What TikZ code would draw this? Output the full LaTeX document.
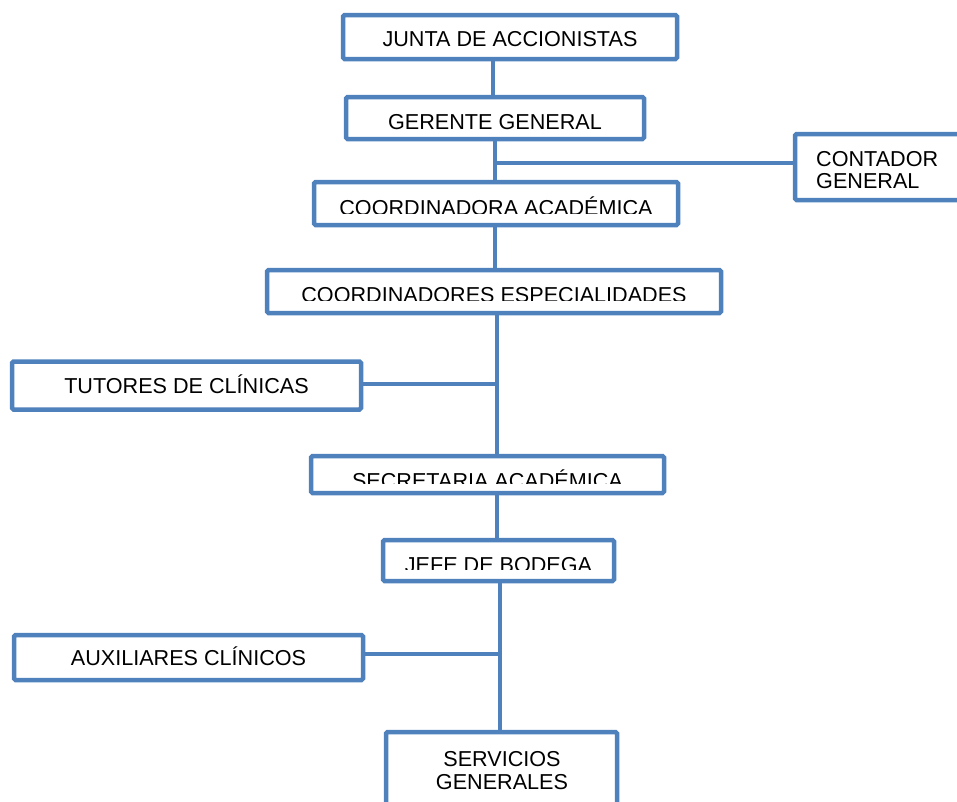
\documentclass[tikz,border=0pt]{standalone}
\usepackage{fontspec}
\setmainfont{Liberation Sans}
\definecolor{orgblue}{HTML}{4F81BD}
\begin{document}
\begin{tikzpicture}[x=1pt,y=-1pt,
  orgbox/.style={draw=orgblue, line width=4.5pt, fill=white, rounded corners=1.5pt, rectangle, inner sep=0pt},
  txt/.style={anchor=base, inner sep=0pt, font=\fontsize{21.6}{25}\selectfont},
  txtl/.style={anchor=base west, inner sep=0pt, font=\fontsize{21.6}{25}\selectfont},
  link/.style={draw=orgblue, line width=4.5pt}]
\useasboundingbox (0,0) rectangle (957,801);

\coordinate (c1) at (493,0);
\coordinate (c2) at (495,0);
\coordinate (c3) at (497,0);
\coordinate (c4) at (500,0);

% boxes
\node[orgbox, minimum width=334pt, minimum height=44pt] (junta) at (510,37) {};
\node[orgbox, minimum width=298pt, minimum height=42pt] (gerente) at (495,118) {};
\node[orgbox, minimum width=178pt, minimum height=66pt] (contador) at (884,167) {};
\node[orgbox, minimum width=364pt, minimum height=43pt] (coorda) at (496,203.5) {};
\node[orgbox, minimum width=454pt, minimum height=43pt] (coordes) at (494,291.5) {};
\node[orgbox, minimum width=349pt, minimum height=48pt] (tutores) at (186.5,385.5) {};
\node[orgbox, minimum width=353pt, minimum height=37pt] (secre) at (487.5,474.5) {};
\node[orgbox, minimum width=231pt, minimum height=41pt] (jefe) at (498.5,560.5) {};
\node[orgbox, minimum width=349pt, minimum height=45pt] (aux) at (188.5,657.5) {};
\node[orgbox, minimum width=231pt, minimum height=96pt] (serv) at (501.5,780) {};

% connectors
\draw[link] (c1 |- junta.south) -- (c1 |- gerente.north);
\draw[link] (c2 |- gerente.south) -- (c2 |- coorda.north);
\coordinate (b1) at (495,163);
\draw[link] (b1) -- (b1 -| contador.west);
\draw[link] (c2 |- coorda.south) -- (c2 |- coordes.north);
\draw[link] (c3 |- coordes.south) -- (c3 |- secre.north);
\coordinate (b2) at (497,384);
\draw[link] (b2) -- (b2 -| tutores.east);
\draw[link] (c3 |- secre.south) -- (c3 |- jefe.north);
\draw[link] (c4 |- jefe.south) -- (c4 |- serv.north);
\coordinate (b3) at (500,654);
\draw[link] (b3) -- (b3 -| aux.east);

% texts
\node[txt] (juntaT) at (510,46) {JUNTA DE ACCIONISTAS};
\node[txt] (gerenteT) at (495,129) {GERENTE GENERAL};
\node[txtl] (contadorT1) at (816,166) {CONTADOR};
\node[txtl] (contadorT2) at (816,188) {GENERAL};
\begin{scope}
  \clip (312,180) rectangle (680,213.5);
  \node[txt] (coordaT) at (496,215.5) {COORDINADORA ACADÉMICA};
\end{scope}
\begin{scope}
  \clip (265,268) rectangle (723,300.5);
  \node[txt] (coordesT) at (494,302.5) {COORDINADORES ESPECIALIDADES};
\end{scope}
\node[txt] (tutoresT) at (186.5,393) {TUTORES DE CLÍNICAS};
\begin{scope}
  \clip (309,454) rectangle (666,483);
  \node[txt] (secreT) at (487.5,488) {SECRETARIA ACADÉMICA};
\end{scope}
\begin{scope}
  \clip (381,538) rectangle (616,569);
  \node[txt] (jefeT) at (498.5,572) {JEFE DE BODEGA};
\end{scope}
\node[txt] (auxT) at (188.5,665) {AUXILIARES CLÍNICOS};
\node[txt] (servT1) at (502,766) {SERVICIOS};
\node[txt] (servT2) at (502,789) {GENERALES};
\end{tikzpicture}
\end{document}
